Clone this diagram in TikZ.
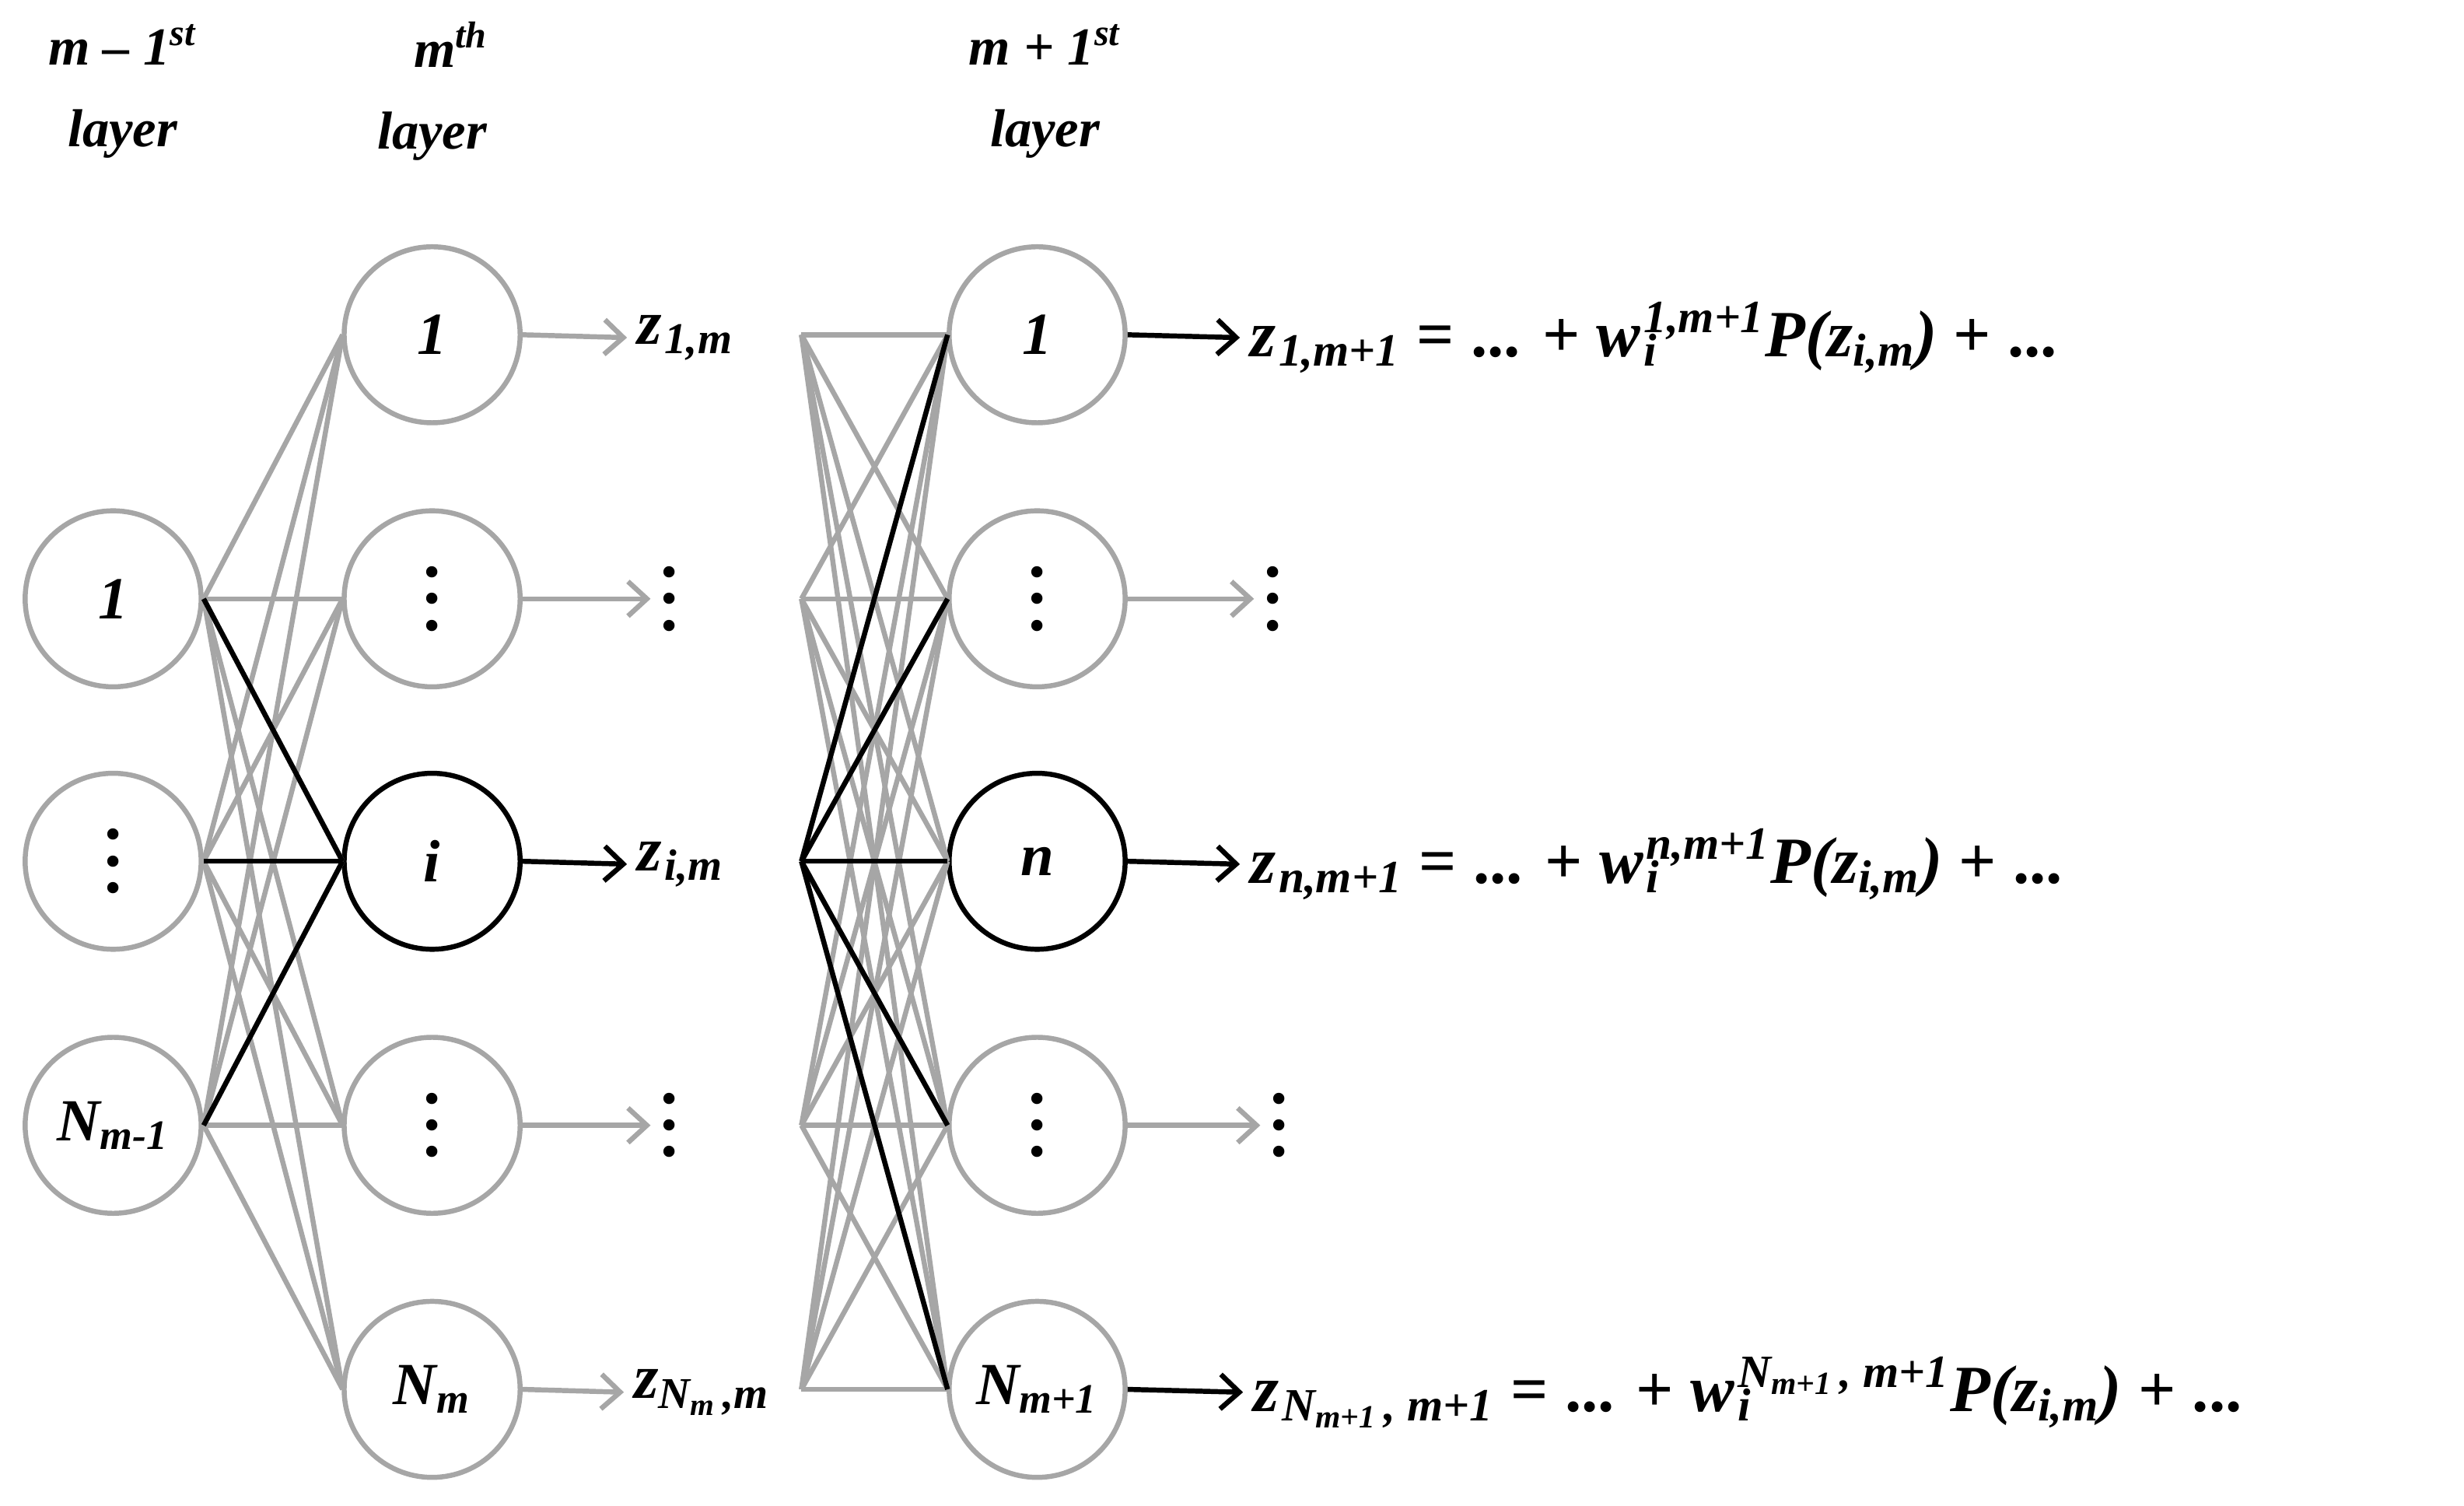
\documentclass[tikz,border=0pt]{standalone}
\usepackage{fontspec}
\setmainfont{Liberation Serif}
\usetikzlibrary{arrows.meta}
\newcommand{\sbs}[1]{\textsubscript{#1}}
\newcommand{\sps}[1]{\textsuperscript{#1}}
\newcommand{\wsub}[2]{\rlap{\sbs{#1}}\sps{#2}}
\newcommand{\vd}{\raisebox{-4pt}{\fontsize{22}{22}\selectfont\upshape\bfseries\vbox{\baselineskip=8.5pt\hbox{.}\hbox{.}\hbox{.}}}}
\begin{document}
\begin{tikzpicture}[x=0.5pt,y=-0.5pt,
  neu/.style={circle,draw=gray!70,line width=1.6pt,minimum size=56pt,inner sep=0pt,font=\fontsize{19}{20}\selectfont\bfseries\itshape},
  act/.style={neu,draw=black},
  g/.style={gray!70,line width=1.6pt},
  b/.style={black,line width=1.6pt},
  ga/.style={g,-{Straight Barb[length=6pt,width=11pt]},shorten >=3pt},
  ba/.style={b,-{Straight Barb[length=6pt,width=11pt]},shorten >=3pt},
  lab/.style={font=\fontsize{20}{22}\selectfont\bfseries\itshape,anchor=west,inner sep=0pt},
  eq/.style={font=\fontsize{21}{22}\selectfont\bfseries,anchor=west,inner sep=0pt},
  hd/.style={font=\fontsize{17}{20}\selectfont\bfseries\itshape,align=center}]
\useasboundingbox (0,0) rectangle (1568,958);
% layer 1
\node[neu] (a1) at (72,381) {1};
\node[neu] (a2) at (72,548) {\vd};
\node[neu] (a3) at (72,716) {N\sbs{m-1}};
\foreach \y [count=\k] in {213,381,548,716,884} {\coordinate (l\k) at (218,\y); \coordinate (m\k) at (510,\y); \coordinate (r\k) at (603,\y);}
% layer 2
\node[neu] (b1) at (275,213) {1};
\node[neu] (b2) at (275,381) {\vd};
\node[act] (b3) at (275,548) {i};
\node[neu] (b4) at (275,716) {\vd};
\node[neu] (b5) at (275,884) {N\sbs{m}};
% layer 3
\node[neu] (c1) at (660,213) {1};
\node[neu] (c2) at (660,381) {\vd};
\node[act] (c3) at (660,548) {n};
\node[neu] (c4) at (660,716) {\vd};
\node[neu] (c5) at (660,884) {N\sbs{m+1}};
% connections
\foreach \i in {1,2,3} \foreach \k in {1,...,5} \draw[g] (a\i.east) -- (l\k);
\foreach \i in {1,...,5} \foreach \k in {1,...,5} \draw[g] (m\i) -- (r\k);
\foreach \i in {1,2,3} \draw[b] (a\i.east) -- (l3);
\foreach \k in {1,...,5} \draw[b] (m3) -- (r\k);
% z labels
\node[lab] (z1) at (405,215) {z\kern1pt\sbs{1,m}};
\node[lab] (z2) at (420,381) {\vd};
\node[lab] (z3) at (405,550) {z\kern1pt\sbs{i,m}};
\node[lab] (z4) at (420,716) {\vd};
\node[lab] (z5) at (403,886) {z\sbs{N\sbs{m}\,,m}};
\draw[ga] (b1.east) -- (z1.west);
\draw[ga] (b2.east) -- (z2.west);
\draw[ba] (b3.east) -- (z3.west);
\draw[ga] (b4.east) -- (z4.west);
\draw[ga] (b5.east) -- (z5.west);
% outputs
\node[eq] (e1) at (795,215) {\itshape z\kern1pt\sbs{1,m+1}\upshape\ = ... + \itshape w\kern1pt\wsub{i}{1,m+1}P(z\sbs{i,m})\upshape\ + ...};
\node[lab] (e2) at (804,381) {\vd};
\node[eq] (e3) at (795,550) {\itshape z\kern1pt\sbs{n,m+1}\upshape\ = ... + \itshape w\kern1pt\wsub{i}{n,m+1}P(z\sbs{i,m})\upshape\ + ...};
\node[lab] (e4) at (808,716) {\vd};
\node[eq] (e5) at (797,886) {\itshape z\kern1pt\sbs{N\sbs{m+1}\,, m+1}\upshape\ = ... + \itshape w\kern1pt\wsub{i}{N\sbs{m+1}\,, m+1}P(z\sbs{i,m})\upshape\ + ...};
\draw[ba] (c1.east) -- (e1.west);
\draw[ga] (c2.east) -- (e2.west);
\draw[ba] (c3.east) -- (e3.west);
\draw[ga] (c4.east) -- (e4.west);
\draw[ba] (c5.east) -- (e5.west);
% headers
\node[hd] (h1) at (78,58) {m – 1\sps{st}\\[6pt]layer};
\node[hd] (h2) at (275,58) {\hspace*{12pt}m\sps{th}\\[6pt]layer};
\node[hd] (h3) at (665,58) {m + 1\sps{st}\\[6pt]layer};
\end{tikzpicture}
\end{document}
